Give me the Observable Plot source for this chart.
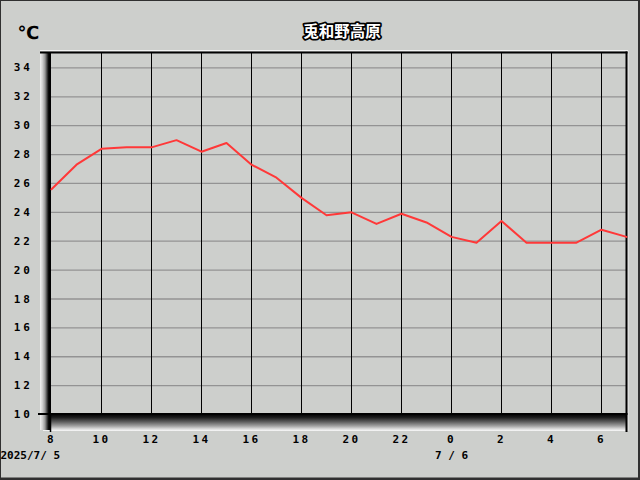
<!DOCTYPE html>
<html>
<head>
<meta charset="utf-8">
<script src="https://cdn.jsdelivr.net/npm/d3@7"></script>
<script src="https://cdn.jsdelivr.net/npm/@observablehq/plot@0.6"></script>
<style>
  html, body { margin: 0; padding: 0; background: #cdcfcc; }
  [aria-label="y-axis tick label"] text { letter-spacing: 2.7px; }
  [aria-label="x-axis tick label"] text { letter-spacing: 2.5px; }
  [aria-label="date"] text { letter-spacing: 1.1px; }
</style>
</head>
<body>
<div id="chart"></div>
<script>
// ---- data ----
const title = "兎和野高原";
const unitLabel = "℃";
const hourLabels = [8, 9, 10, 11, 12, 13, 14, 15, 16, 17, 18, 19, 20, 21, 22, 23, 0, 1, 2, 3, 4, 5, 6, 7];
const temps = [25.6, 27.3, 28.4, 28.5, 28.5, 29.0, 28.2, 28.8, 27.3, 26.4, 25.0, 23.8,
               24.0, 23.2, 23.9, 23.3, 22.3, 21.9, 23.4, 21.9, 21.9, 21.9, 22.8, 22.3];
const yTicks = [10, 12, 14, 16, 18, 20, 22, 24, 26, 28, 30, 32, 34];
const xTicks = [0, 2, 4, 6, 8, 10, 12, 14, 16, 18, 20, 22];
const dateLabels = [{i: 0, label: "2025/7/ 5"}, {i: 16, label: "7 / 6"}];

const rows = temps.map((t, i) => ({i, t}));

const NS = "http://www.w3.org/2000/svg";

function backdrop(index, scales, values, d) {
  const x0 = d.marginLeft, x1 = d.width - d.marginRight, y0 = d.marginTop, y1 = d.height - d.marginBottom;
  const g = document.createElementNS(NS, "g");
  g.innerHTML = `
  <defs>
    <linearGradient id="gl" x1="0" x2="1" y1="0" y2="0">
      <stop offset="0" stop-color="#f2f2f2"/>
      <stop offset="0.22" stop-color="#d0d0d0"/>
      <stop offset="0.45" stop-color="#9a9a9a"/>
      <stop offset="0.68" stop-color="#303030"/>
      <stop offset="0.8" stop-color="#000"/>
      <stop offset="1" stop-color="#000"/>
    </linearGradient>
    <linearGradient id="gb" x1="0" x2="0" y1="0" y2="1">
      <stop offset="0" stop-color="#000"/>
      <stop offset="0.2" stop-color="#1c1c1c"/>
      <stop offset="0.45" stop-color="#5a5a5a"/>
      <stop offset="0.7" stop-color="#a0a0a0"/>
      <stop offset="0.88" stop-color="#dcdcdc"/>
      <stop offset="1" stop-color="#f8f8f8"/>
    </linearGradient>
  </defs>
  <rect x="0.5" y="0.5" width="638" height="477.5" fill="none" stroke="#303030" stroke-width="1"/>
  <line x1="0" x2="640" y1="479" y2="479" stroke="#303030" stroke-width="2"/>
  <line x1="639.5" x2="639.5" y1="0" y2="480" stroke="#303030" stroke-width="1"/>
  <rect x="${x0 - 8}" y="${y1}" width="${x1 - x0 + 9}" height="17" fill="url(#gb)"/>
  <rect x="${x0 - 11}" y="${y0 - 1}" width="11" height="${y1 - y0 + 17}" fill="url(#gl)"/>
  <line x1="${x0 - 11}" x2="${x1 + 2}" y1="${y0 - 2.5}" y2="${y0 - 2.5}" stroke="#f2f2f2" stroke-width="1"/>
  <line x1="${x1 + 2}" x2="${x1 + 2}" y1="${y0 - 2}" y2="${y1 + 17}" stroke="#eeeeee" stroke-width="1"/>
  `;
  return g;
}

function borders(index, scales, values, d) {
  const x0 = d.marginLeft, x1 = d.width - d.marginRight, y0 = d.marginTop, y1 = d.height - d.marginBottom;
  const g = document.createElementNS(NS, "g");
  g.innerHTML = `
  <line x1="${x0 - 11}" x2="${x1 + 1.5}" y1="${y0 - 0.5}" y2="${y0 - 0.5}" stroke="#000" stroke-width="2"/>
  <line x1="${x1 + 0.5}" x2="${x1 + 0.5}" y1="${y0 - 1.5}" y2="${y1 + 18}" stroke="#000" stroke-width="2"/>
  <line x1="${x0 - 13}" x2="${x1 + 1.5}" y1="${y1}" y2="${y1}" stroke="#000" stroke-width="2"/>
  <line x1="${x0 - 0.5}" x2="${x0 - 0.5}" y1="${y1}" y2="${y1 + 18}" stroke="#000" stroke-width="1.5"/>
  `;
  return g;
}

const chart = Plot.plot({
  width: 640,
  height: 480,
  marginLeft: 51,
  marginRight: 14,
  marginTop: 53,
  marginBottom: 66,
  x: {domain: [0, 23]},
  y: {domain: [10, 35]},
  style: {
    background: "#cdcfcc",
    fontFamily: "'DejaVu Sans Mono', monospace",
    fontSize: "11px",
    fontWeight: "bold",
    color: "#000",
    overflow: "visible"
  },
  marks: [
    backdrop,
    Plot.ruleY(yTicks.filter(v => v > 10), {y: d => d, stroke: "#939393", strokeWidth: 1.3}),
    Plot.ruleX(xTicks.filter(v => v > 0), {x: d => d, stroke: "#000", strokeWidth: 1}),
    borders,
    Plot.line(rows, {x: "i", y: "t", stroke: "#ff3838", strokeWidth: 2}),
    Plot.axisY(yTicks, {anchor: "left", tickSize: 0, tickPadding: 19, label: null, fontSize: 11}),
    Plot.axisX(xTicks, {anchor: "bottom", tickSize: 0, tickPadding: 21, label: null, fontSize: 11,
                        tickFormat: i => String(hourLabels[i])}),
    Plot.text([dateLabels[0]], {x: "i", text: "label", frameAnchor: "bottom", lineAnchor: "bottom",
                                textAnchor: "start", dx: -51, dy: 44, ariaLabel: "date"}),
    Plot.text([dateLabels[1]], {x: "i", text: "label", frameAnchor: "bottom", lineAnchor: "bottom",
                                textAnchor: "middle", dy: 44, ariaLabel: "date"}),
    Plot.text([title], {text: d => d, frameAnchor: "top", dx: 3, dy: -28, fill: "#fff", stroke: "#000",
                        strokeWidth: 3.5, paintOrder: "stroke", fontSize: 15.5, fontWeight: "bold",
                        fontFamily: "'Noto Sans CJK JP', sans-serif"}),
    Plot.text([unitLabel], {text: d => d, frameAnchor: "top-left", textAnchor: "start", dx: -34, dy: -27,
                            fontSize: 18, fontWeight: "bold", fill: "#000",
                            fontFamily: "'DejaVu Sans', sans-serif"})
  ]
});
document.getElementById("chart").appendChild(chart);
</script>
</body>
</html>
